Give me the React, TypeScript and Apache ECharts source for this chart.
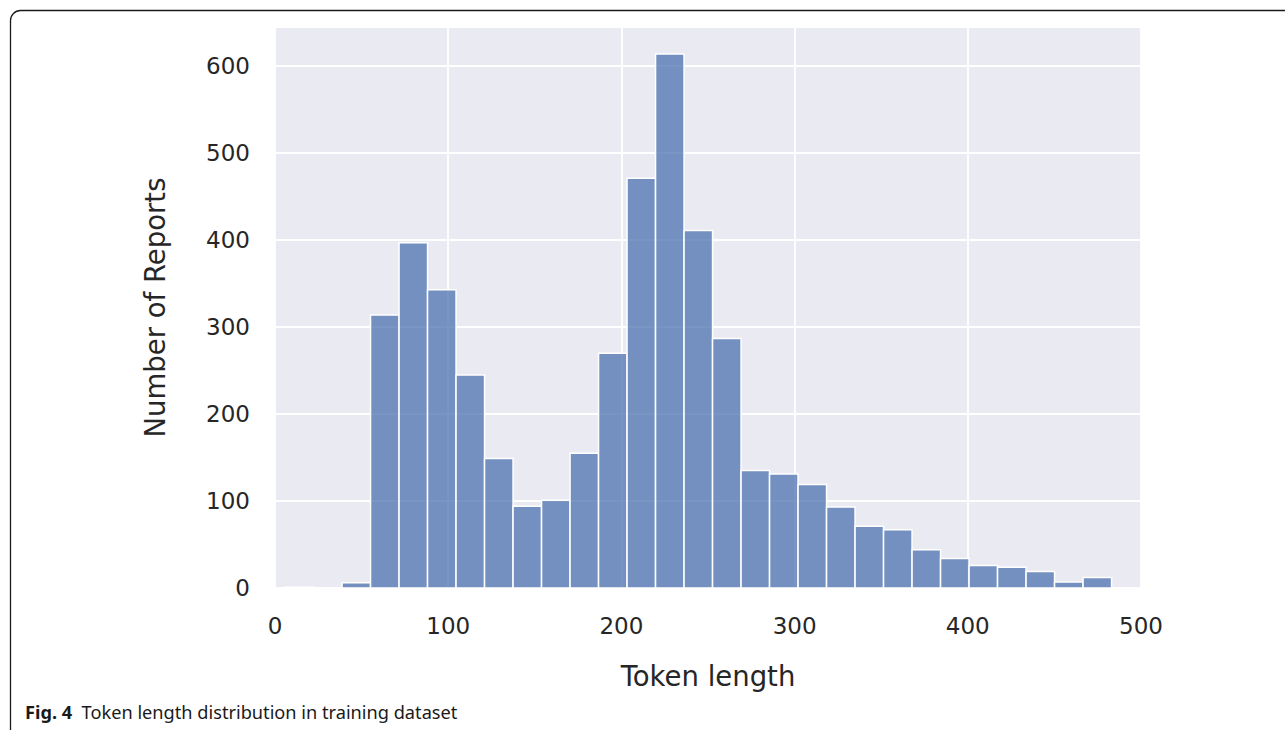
import React, { useEffect, useRef } from "react";
import * as echarts from "echarts";

// Histogram of token lengths (29 equal-width bins from BIN_START to BIN_END)
const BIN_START = 5.8;
const BIN_END = 483;
const counts = [1, 0, 6, 314, 397, 343, 245, 149, 94, 101, 155, 270, 471, 614, 411, 287, 135, 131, 119, 93, 71, 67, 44, 34, 26, 24, 19, 7, 12];
const xTicks = [0, 100, 200, 300, 400, 500];
const yTicks = [0, 100, 200, 300, 400, 500, 600];
const xTitle = "Token length";
const yTitle = "Number of Reports";
const captionBold = "Fig. 4";
const captionText = "Token length distribution in training dataset";

const TEXT = "#262626";
const FONT = "DejaVu Sans";

export default function App() {
  const ref = useRef<HTMLDivElement>(null);
  useEffect(() => {
    if (!ref.current) return;
    const chart = echarts.init(ref.current, undefined, { renderer: "svg" });
    const w = (BIN_END - BIN_START) / counts.length;
    const data = counts.map((c, i) => [BIN_START + i * w, BIN_START + (i + 1) * w, c]);
    chart.setOption({
      animation: false,
      backgroundColor: "#ffffff",
      grid: {
        left: 275,
        top: 27,
        right: 144,
        bottom: 142,
        show: true,
        backgroundColor: "#EAEAF2",
        borderWidth: 0,
      },
      xAxis: {
        type: "value",
        min: xTicks[0],
        max: xTicks[xTicks.length - 1],
        interval: 100,
        name: xTitle,
        nameLocation: "middle",
        nameGap: 74,
        nameTextStyle: { fontFamily: FONT, fontSize: 27.5, color: TEXT },
        axisLine: { show: false },
        axisTick: { show: false },
        axisLabel: { fontFamily: FONT, fontSize: 23, color: TEXT, margin: 26 },
        splitLine: { show: true, lineStyle: { color: "#ffffff", width: 1.8 } },
      },
      yAxis: {
        type: "value",
        min: yTicks[0],
        max: 645,
        interval: 100,
        name: yTitle,
        nameLocation: "middle",
        nameGap: 106,
        nameTextStyle: { fontFamily: FONT, fontSize: 27.5, color: TEXT },
        axisLine: { show: false },
        axisTick: { show: false },
        axisLabel: {
          fontFamily: FONT,
          fontSize: 23,
          color: TEXT,
          margin: 25,
          showMaxLabel: false,
          formatter: (v: number) => (yTicks.includes(v) ? String(v) : ""),
        },
        splitLine: { show: true, lineStyle: { color: "#ffffff", width: 1.8 } },
      },
      series: [
        {
          type: "custom",
          data,
          encode: { x: [0, 1], y: 2 },
          renderItem: (params: any, api: any) => {
            const v = api.value(2);
            if (!v) return null;
            const p0 = api.coord([api.value(0), v]);
            const p1 = api.coord([api.value(1), 0]);
            return {
              type: "rect",
              shape: { x: p0[0], y: p0[1], width: p1[0] - p0[0], height: p1[1] - p0[1] },
              style: { fill: "rgba(76,114,176,0.75)", stroke: "#ffffff", lineWidth: 1.5 },
            };
          },
        },
      ],
      graphic: [
        {
          type: "rect",
          shape: { x: 10.5, y: 10.5, width: 1500, height: 900, r: 10 },
          style: { fill: "none", stroke: "#1a1a1a", lineWidth: 1.3 },
          silent: true,
        },
        {
          type: "text",
          x: 25,
          y: 712,
          style: {
            text: `{b|${captionBold}}  ${captionText}`,
            font: "18.2px 'Noto Sans'",
            fill: "#1a1a1a",
            verticalAlign: "middle",
            rich: {
              b: { fontFamily: "Noto Sans", fontWeight: "bold", fontSize: 18.2, fill: "#1a1a1a" },
            },
          },
        },
      ],
    });
    return () => chart.dispose();
  }, []);
  return (
    <div
      ref={ref}
      style={{ position: "fixed", left: 0, top: 0, width: 1285, height: 730 }}
    />
  );
}
